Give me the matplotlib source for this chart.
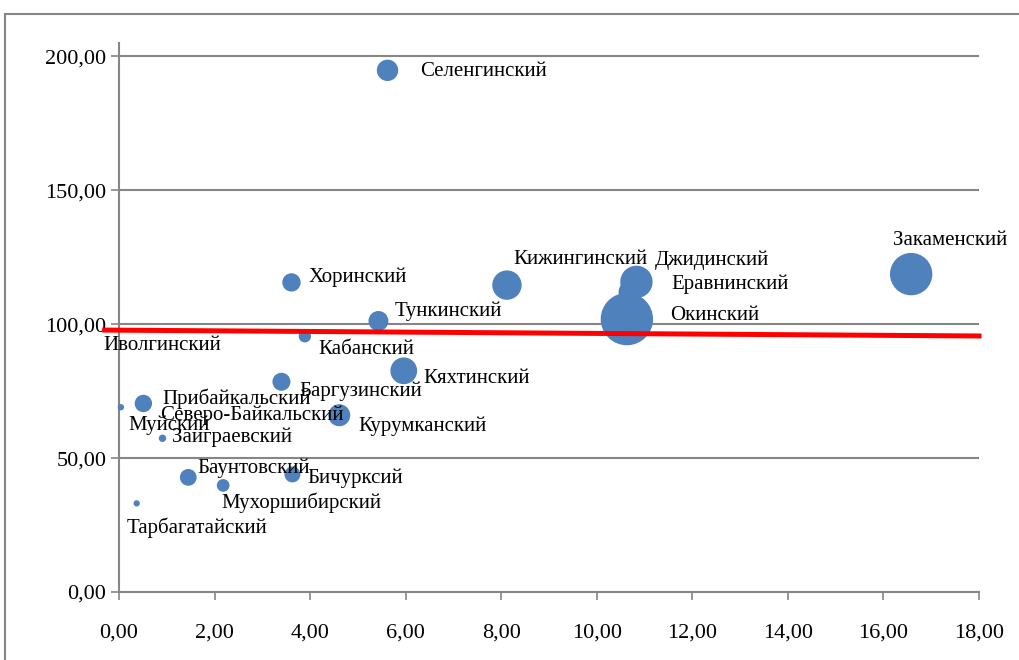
import matplotlib
matplotlib.use("Agg")
import matplotlib.pyplot as plt
from matplotlib.patches import Rectangle
from matplotlib.ticker import FuncFormatter

# districts, x / y values and bubble sizes
districts = ["Селенгинский", "Хоринский", "Тункинский", "Кабанский", "Кижингинский",
             "Джидинский", "Еравнинский", "Окинский", "Закаменский", "Кяхтинский",
             "Баргузинский", "Курумканский", "Прибайкальский", "Северо-Байкальский",
             "Муйский", "Заиграевский", "Баунтовский", "Бичурксий", "Мухоршибирский",
             "Тарбагатайский", "Иволгинский"]
x_vals = [5.62, 3.61, 5.43, 3.89, 8.12,
          10.83, 10.70, 10.63, 16.58, 5.96,
          3.40, 4.61, 0.51, 0.65,
          0.04, 0.91, 1.45, 3.63, 2.18,
          0.37, 0.00]
y_vals = [194.8, 115.6, 101.2, 95.5, 114.6,
          115.8, 112.0, 101.9, 118.7, 82.6,
          78.5, 66.0, 70.4, 66.0,
          69.0, 57.4, 42.8, 43.9, 39.8,
          33.1, 92.2]
bubble_size = [100, 72, 86, 30, 196,
               240, 121, 650, 420, 161,
               69, 106, 64, 0,
               6, 9, 59, 53, 32,
               6, 0]

# trend line end points
trend_x = [-0.3, 18.0]
trend_y = [97.8, 95.6]

# label offsets in pixels (dx, dy)
label_off = [(33, -1), (17, 5), (16, 10), (14, -13), (6, 26),
             (18, 22), (41, 8), (43, 4), (-18, 34), (20, -8),
             (18, -9), (19, -11), (19, 5), (10, 0),
             (7, -18), (10, 1), (9, 9), (15, -4), (-2, -17),
             (-10, -24), (-16, 0)]

plt.rcParams['font.family'] = ['Liberation Serif', 'DejaVu Serif']
grey = "#868686"

fig = plt.figure(figsize=(10.19, 6.6), dpi=100)
fig.patches.append(Rectangle((5/1019, -0.1), 1.2, 1.1 - 14/660,
                             transform=fig.transFigure, fill=False,
                             edgecolor=grey, linewidth=1.5))
ax = fig.add_axes([119/1019, 1 - 592/660, 860/1019, 549/660])

ax.set_xlim(0, 18)
ax.set_ylim(0, 205)
ax.set_xticks(range(0, 19, 2))
ax.set_yticks(range(0, 201, 50))
fmt = FuncFormatter(lambda v, p: f"{v:.2f}".replace(".", ","))
ax.xaxis.set_major_formatter(fmt)
ax.yaxis.set_major_formatter(fmt)

ax.yaxis.grid(True, color=grey, linewidth=1.5)
ax.set_axisbelow(True)
for s in ["top", "right"]:
    ax.spines[s].set_visible(False)
for s in ["left", "bottom"]:
    ax.spines[s].set_color(grey)
    ax.spines[s].set_linewidth(1.5)
ax.tick_params(axis="x", direction="out", length=6, width=1.2, color=grey,
               labelsize=16, pad=17)
ax.tick_params(axis="y", direction="out", length=6, width=1.2, color=grey,
               labelsize=16, pad=3)

sizes = [b * 2.07 for b in bubble_size]
ax.scatter(x_vals, y_vals, s=sizes, color="#4F81BD", zorder=3, clip_on=False)

ax.plot(trend_x, trend_y, color="red", linewidth=3.6, zorder=4, clip_on=False)

for name, xv, yv, (dx, dy) in zip(districts, x_vals, y_vals, label_off):
    ax.annotate(name, (xv, yv), xytext=(dx, dy), textcoords="offset pixels",
                ha="left", va="center", fontsize=15, zorder=5,
                annotation_clip=False)

fig.savefig("out.png", dpi=100)
